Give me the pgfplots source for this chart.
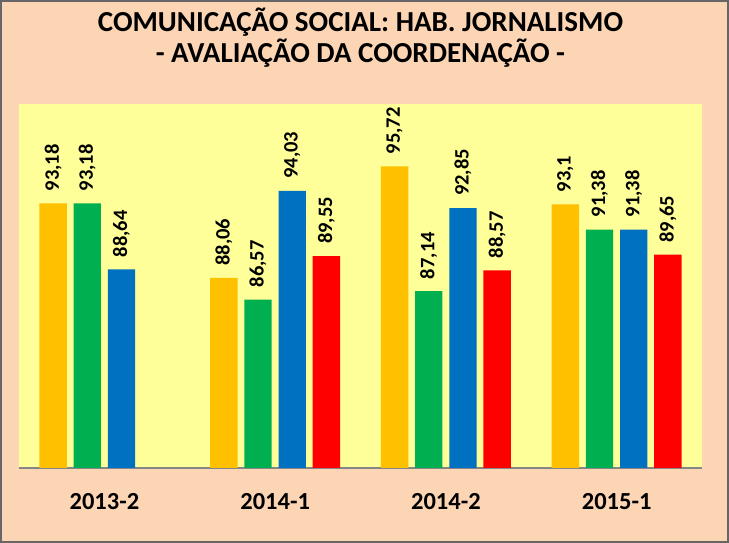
\documentclass[border=0pt]{standalone}
\usepackage{fontspec}
\setmainfont{Carlito}
\usepackage{pgfplots}
\pgfplotsset{compat=1.18}
\definecolor{bgpeach}{HTML}{FCD5B5}
\definecolor{plotyel}{HTML}{FFFF99}
\definecolor{cgold}{HTML}{FFC000}
\definecolor{cgreen}{HTML}{00B050}
\definecolor{cblue}{HTML}{0070C0}
\definecolor{cred}{HTML}{FF0000}
\definecolor{axgray}{HTML}{868686}
\begin{document}
\begin{tikzpicture}[x=1pt,y=1pt]
\fill[bgpeach] (0,0) rectangle (729,543);
\draw[gray!80!black,line width=2pt] (1,1) rectangle (728,542);
\useasboundingbox (0,0) rectangle (729,543);
\begin{axis}[
  at={(19pt,75pt)}, anchor=south west,
  scale only axis, width=683pt, height=364pt,
  xmin=-0.5, xmax=3.5, ymin=75, ymax=100,
  hide y axis,
  axis x line*=bottom,
  x axis line style={-, draw=axgray, line width=1.2pt},
  axis background/.style={fill=plotyel},
  xtick={0,1,2,3},
  xticklabels={2013-2,2014-1,2014-2,2015-1},
  major tick length=0pt,
  xticklabel style={font=\fontsize{24.5}{28}\selectfont\bfseries, anchor=base, yshift=-42pt},
  ybar, bar width=0.16,
  /pgf/number format/assume math mode=true,
  /pgf/number format/use comma,
  /pgf/number format/precision=2,
  nodes near coords,
  every node near coord/.append style={font=\fontsize{20.5}{24}\selectfont\bfseries, rotate=90, anchor=west, inner sep=0pt, inner xsep=12pt, text=black},
  title={COMUNICAÇÃO SOCIAL: HAB. JORNALISMO\\- AVALIAÇÃO DA COORDENAÇÃO -},
  title style={at={(0.5,1)}, anchor=center, yshift=60pt, align=center, font=\fontsize{29}{31}\selectfont\bfseries},
  clip=false,
]
\addplot[fill=cgold, draw=none, bar shift=-0.3] coordinates {(0,93.18) (1,88.06) (2,95.72) (3,93.1)};
\addplot[fill=cgreen, draw=none, bar shift=-0.1] coordinates {(0,93.18) (1,86.57) (2,87.14) (3,91.38)};
\addplot[fill=cblue, draw=none, bar shift=0.1] coordinates {(0,88.64) (1,94.03) (2,92.85) (3,91.38)};
\addplot[fill=cred, draw=none, bar shift=0.3] coordinates {(1,89.55) (2,88.57) (3,89.65)};
\end{axis}
\end{tikzpicture}
\end{document}
